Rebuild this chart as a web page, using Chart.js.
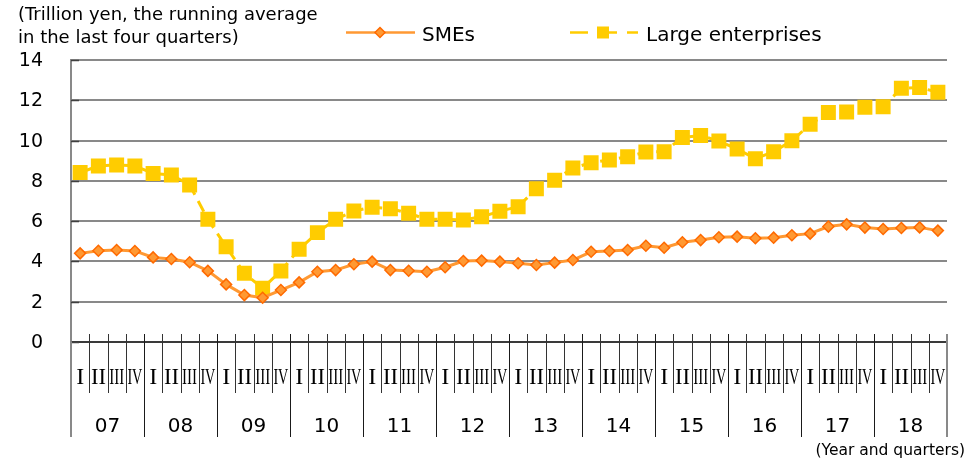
<!DOCTYPE html>
<html>
<head>
<meta charset="utf-8">
<script src="https://cdn.jsdelivr.net/npm/chart.js@4.4.1/dist/chart.umd.min.js"></script>
<style>
  html, body { margin: 0; padding: 0; background: #fff; }
  #wrap { width: 978px; height: 462px; }
</style>
</head>
<body>
<div id="wrap"><canvas id="c" width="978" height="462"></canvas></div>
<script>
const years = ['07','08','09','10','11','12','13','14','15','16','17','18'];
const quarters = ['I','II','III','IV'];
const categories = years.flatMap(y => quarters.map(q => y + '-' + q));

const smes = [4.40,4.53,4.57,4.52, 4.20,4.12,3.96,3.53, 2.86,2.33,2.20,2.58,
              2.96,3.49,3.57,3.86, 3.99,3.57,3.54,3.49, 3.71,4.02,4.04,3.99,
              3.91,3.82,3.94,4.07, 4.48,4.52,4.57,4.78, 4.68,4.95,5.06,5.20,
              5.23,5.15,5.18,5.30, 5.38,5.73,5.84,5.68, 5.61,5.66,5.69,5.53];
const large = [8.41,8.74,8.79,8.74, 8.37,8.29,7.80,6.09, 4.73,3.41,2.67,3.53,
               4.60,5.43,6.09,6.50, 6.69,6.62,6.39,6.09, 6.09,6.06,6.22,6.49,
               6.72,7.61,8.03,8.64, 8.90,9.04,9.20,9.43, 9.45,10.15,10.25,9.98,
               9.58,9.10,9.45,9.99, 10.81,11.39,11.42,11.65, 11.68,12.60,12.63,12.40];
const yTicks = [0,2,4,6,8,10,12,14];
const seriesNames = ['SMEs', 'Large enterprises'];
const yTitle = ['(Trillion yen, the running average', 'in the last four quarters)'];
const xTitle = '(Year and quarters)';

const SME_LINE = '#FF9933', SME_EDGE = '#FF6A00', LE_COL = '#FFCC00';
const GRID = '#898989';

const decor = {
  id: 'decor',
  afterDraw(chart) {
    const ctx = chart.ctx;
    const x = chart.scales.x, y = chart.scales.y;
    const a = chart.chartArea;
    const y0 = y.getPixelForValue(0);
    const n = categories.length;
    const step = (x.getPixelForValue(1) - x.getPixelForValue(0));
    ctx.save();
    // y tick labels and small inner ticks
    ctx.fillStyle = '#000';
    ctx.font = '19px "DejaVu Sans"';
    ctx.textAlign = 'right';
    ctx.textBaseline = 'middle';
    ctx.strokeStyle = '#404040';
    ctx.lineWidth = 1.5;
    yTicks.forEach(v => {
      const py = y.getPixelForValue(v);
      ctx.fillText(String(v), 43, py + 1);
      const ly = Math.round(py) + 0.5;
      ctx.beginPath(); ctx.moveTo(a.left, ly); ctx.lineTo(a.left + 8, ly); ctx.stroke();
    });
    ctx.textBaseline = 'alphabetic';
    // left / right edge extensions
    ctx.strokeStyle = GRID; ctx.lineWidth = 2;
    ctx.beginPath(); ctx.moveTo(a.left, y0); ctx.lineTo(a.left, 437); ctx.stroke();
    ctx.beginPath(); ctx.moveTo(a.right, y0 - 8); ctx.lineTo(a.right, 437); ctx.stroke();
    // category boundaries
    for (let i = 1; i < n; i++) {
      const bx = Math.round(x.getPixelForValue(i) - step / 2) + 0.5;
      const isYear = i % 4 === 0;
      ctx.strokeStyle = isYear ? '#1a1a1a' : '#333';
      ctx.lineWidth = 1;
      ctx.beginPath(); ctx.moveTo(bx, y0 - 8); ctx.lineTo(bx, isYear ? 437 : 393); ctx.stroke();
    }
    // quarter labels
    ctx.fillStyle = '#000';
    ctx.font = '24px "Liberation Serif"';
    ctx.textAlign = 'center';
    categories.forEach((c, i) => {
      const q = quarters[i % 4];
      ctx.fillText(q, x.getPixelForValue(i), 384, 15);
    });
    // year labels
    ctx.font = '20px "DejaVu Sans"';
    years.forEach((yr, k) => {
      const cx = (x.getPixelForValue(4 * k + 1) + x.getPixelForValue(4 * k + 2)) / 2;
      ctx.fillText(yr, cx, 432);
    });
    // x title
    ctx.font = '15.5px "DejaVu Sans"';
    ctx.textAlign = 'right';
    ctx.fillText(xTitle, 965, 455);
    // y title
    ctx.font = '18px "DejaVu Sans"';
    ctx.textAlign = 'left';
    ctx.fillText(yTitle[0], 18, 20);
    ctx.fillText(yTitle[1], 18, 42.5);
    // legend
    ctx.font = '20px "DejaVu Sans"';
    ctx.strokeStyle = SME_LINE; ctx.lineWidth = 2.5;
    ctx.beginPath(); ctx.moveTo(346, 32.5); ctx.lineTo(415, 32.5); ctx.stroke();
    ctx.beginPath();
    ctx.moveTo(380, 27.5); ctx.lineTo(385, 32.5); ctx.lineTo(380, 37.5); ctx.lineTo(375, 32.5); ctx.closePath();
    ctx.fillStyle = SME_LINE; ctx.fill();
    ctx.strokeStyle = SME_EDGE; ctx.lineWidth = 1.5; ctx.stroke();
    ctx.fillStyle = '#000';
    ctx.fillText(seriesNames[0], 422, 40.5);
    ctx.strokeStyle = LE_COL; ctx.lineWidth = 2.5;
    [[570, 588], [609, 617], [627, 638]].forEach(s => {
      ctx.beginPath(); ctx.moveTo(s[0], 32.5); ctx.lineTo(s[1], 32.5); ctx.stroke();
    });
    ctx.fillStyle = LE_COL;
    ctx.fillRect(597, 26.5, 12, 12);
    ctx.fillStyle = '#000';
    ctx.fillText(seriesNames[1], 646, 40.5);
    ctx.restore();
  }
};

new Chart(document.getElementById('c'), {
  type: 'line',
  data: {
    labels: categories,
    datasets: [
      {
        label: seriesNames[0], data: smes,
        borderColor: SME_LINE, borderWidth: 3,
        pointStyle: 'rectRot', pointRadius: 5.5,
        pointBackgroundColor: SME_LINE, pointBorderColor: SME_EDGE, pointBorderWidth: 1.5,
        tension: 0
      },
      {
        label: seriesNames[1], data: large,
        borderColor: LE_COL, borderWidth: 3, borderDash: [12, 7],
        pointStyle: 'rect', pointRadius: 10.6,
        pointBackgroundColor: LE_COL, pointBorderColor: LE_COL, pointBorderWidth: 0,
        tension: 0
      }
    ]
  },
  options: {
    responsive: false,
    animation: false,
    layout: { padding: { left: 0, right: 31, top: 60, bottom: 120 } },
    plugins: { legend: { display: false }, tooltip: { enabled: false } },
    scales: {
      x: { type: 'category', offset: true, display: false },
      y: {
        min: 0, max: 14,
        afterFit: s => { s.width = 71; },
        afterBuildTicks: s => { s.ticks = yTicks.map(v => ({ value: v })); },
        ticks: { display: false },
        grid: {
          drawTicks: false, lineWidth: 2,
          color: c => (c.tick && c.tick.value === 0) ? '#3a3a3a' : GRID
        },
        border: { color: GRID, width: 2 }
      }
    }
  },
  plugins: [decor]
});
</script>
</body>
</html>
